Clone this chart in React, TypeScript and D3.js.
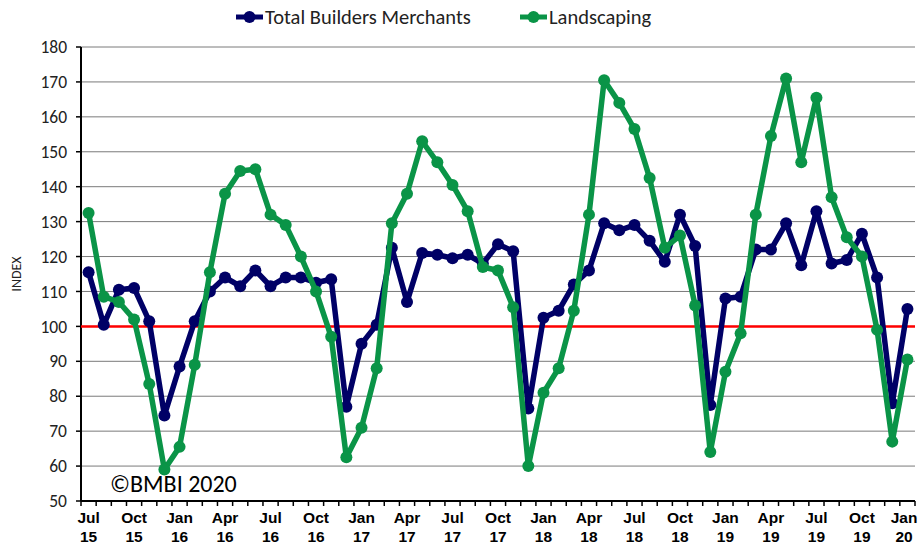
import React from 'react';
import * as d3 from 'd3';

const months = [
  'Jul 15', 'Aug 15', 'Sep 15', 'Oct 15', 'Nov 15', 'Dec 15',
  'Jan 16', 'Feb 16', 'Mar 16', 'Apr 16', 'May 16', 'Jun 16', 'Jul 16', 'Aug 16', 'Sep 16', 'Oct 16', 'Nov 16', 'Dec 16',
  'Jan 17', 'Feb 17', 'Mar 17', 'Apr 17', 'May 17', 'Jun 17', 'Jul 17', 'Aug 17', 'Sep 17', 'Oct 17', 'Nov 17', 'Dec 17',
  'Jan 18', 'Feb 18', 'Mar 18', 'Apr 18', 'May 18', 'Jun 18', 'Jul 18', 'Aug 18', 'Sep 18', 'Oct 18', 'Nov 18', 'Dec 18',
  'Jan 19', 'Feb 19', 'Mar 19', 'Apr 19', 'May 19', 'Jun 19', 'Jul 19', 'Aug 19', 'Sep 19', 'Oct 19', 'Nov 19', 'Dec 19',
  'Jan 20',
];

const totalBuilders = [
  115.5, 100.5, 110.5, 111, 101.5, 74.5,
  88.5, 101.5, 110, 114, 111.5, 116, 111.5, 114, 114, 112.5, 113.5, 77,
  95, 100.5, 122.5, 107, 121, 120.5, 119.5, 120.5, 118, 123.5, 121.5, 76.5,
  102.5, 104.5, 112, 116, 129.5, 127.5, 129, 124.5, 118.5, 132, 123, 77.5,
  108, 108.5, 122, 122, 129.5, 117.5, 133, 118, 119, 126.5, 114, 78,
  105,
];

const landscaping = [
  132.5, 108.5, 107, 102, 83.5, 59,
  65.5, 89, 115.5, 138, 144.5, 145, 132, 129, 120, 110, 97, 62.5,
  71, 88, 129.5, 138, 153, 147, 140.5, 133, 117, 116, 105.5, 60,
  81, 88, 104.5, 132, 170.5, 164, 156.5, 142.5, 122.5, 126, 106, 64,
  87, 98, 132, 154.5, 171, 147, 165.5, 137, 125.5, 120, 99, 67,
  90.5,
];

const yTicks = [50, 60, 70, 80, 90, 100, 110, 120, 130, 140, 150, 160, 170, 180];

const NAVY = '#000066';
const GREEN = '#0a9447';
const FONT = 'Carlito, "Open Sans", "Noto Sans", sans-serif';

export default function App() {
  const width = 919;
  const height = 547;
  const left = 81;
  const right = 915;
  const top = 47;
  const bottom = 501;

  const x = d3.scalePoint<string>().domain(months).range([left, right]).padding(0.5);
  const step = x.step();
  const y = d3.scaleLinear().domain([50, 180]).range([bottom, top]);

  const line = d3.line<number>()
    .x((_, i) => x(months[i]) as number)
    .y(d => y(d));

  const series = [
    { name: 'Total Builders Merchants', values: totalBuilders, color: NAVY },
    { name: 'Landscaping', values: landscaping, color: GREEN },
  ];

  return (
    <svg width={width} height={height} style={{ position: 'absolute', left: 0, top: 0, background: '#fff' }}>
      {/* gridlines */}
      {yTicks.filter(t => t !== 50).map(t => (
        <line key={t} x1={left} x2={right} y1={y(t)} y2={y(t)} stroke="#7a7a7a" strokeWidth={1} />
      ))}
      {/* y axis */}
      <line x1={left} x2={left} y1={top} y2={bottom} stroke="#000" strokeWidth={2} />
      {yTicks.map(t => (
        <g key={t}>
          <line x1={left - 5} x2={left} y1={y(t)} y2={y(t)} stroke="#000" strokeWidth={1.5} />
          <text x={67} y={y(t)} dy="0.35em" textAnchor="end" fontFamily={FONT} fontSize={17.5} fill="#222">{t}</text>
        </g>
      ))}
      <text transform={`translate(21,${(top + bottom) / 2}) rotate(-90)`} textAnchor="middle" fontFamily={FONT} fontSize={14} fill="#222">INDEX</text>

      {/* x axis */}
      <line x1={left} x2={right} y1={bottom} y2={bottom} stroke="#000" strokeWidth={2} />
      {d3.range(months.length + 1).map(i => {
        const xx = left + i * step;
        return <line key={i} x1={xx} x2={xx} y1={bottom} y2={bottom + 5} stroke="#000" strokeWidth={1.5} />;
      })}
      {months.map((m, i) => {
        if (i % 3 !== 0) return null;
        const [mon, yr] = m.split(' ');
        const cx = Math.min(x(m) as number, 904);
        return (
          <text key={m} textAnchor="middle" fontFamily='"Liberation Sans Narrow", "Liberation Sans", sans-serif' fontWeight="bold" fontSize={15.5} fill="#000">
            <tspan x={cx} y={523}>{mon}</tspan>
            <tspan x={cx} y={542}>{yr}</tspan>
          </text>
        );
      })}

      {/* reference line at 100 */}
      <line x1={left} x2={right} y1={y(100)} y2={y(100)} stroke="#ff0000" strokeWidth={2.5} />

      {/* series */}
      {series.map(s => (
        <g key={s.name}>
          <path d={line(s.values) as string} fill="none" stroke={s.color} strokeWidth={5.5} strokeLinejoin="round" />
          {s.values.map((v, i) => (
            <circle key={i} cx={x(months[i]) as number} cy={y(v)} r={6} fill={s.color} />
          ))}
        </g>
      ))}

      <text x={110} y={492} fontFamily={FONT} fontSize={24} fill="#000">©BMBI 2020</text>

      {/* legend */}
      {series.map((s, i) => {
        const lx = i === 0 ? 236 : 520;
        return (
          <g key={s.name}>
            <line x1={lx} x2={lx + 27} y1={17} y2={17} stroke={s.color} strokeWidth={5} />
            <circle cx={lx + 13.5} cy={17} r={6} fill={s.color} />
            <text x={lx + 29} y={17} dy="0.35em" fontFamily={FONT} fontSize={20.5} fill="#222">{s.name}</text>
          </g>
        );
      })}
    </svg>
  );
}
